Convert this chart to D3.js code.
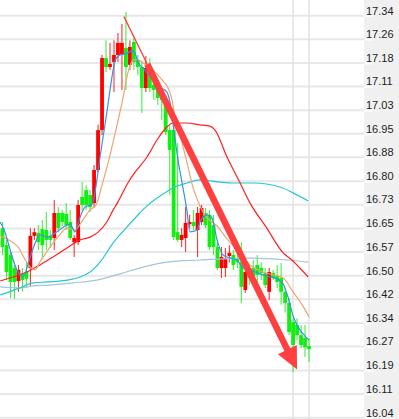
<!DOCTYPE html>
<html>
<head>
<meta charset="utf-8">
<script src="https://cdn.jsdelivr.net/npm/d3@7"></script>
<style>
  html, body { margin: 0; padding: 0; background: #ffffff; }
  svg { display: block; }
</style>
</head>
<body>
<svg id="chart" width="399" height="419"></svg>
<script>
// ---- Data ----
const opens  = [16.653,16.598,16.566,16.524,16.482,16.505,16.511,16.524,16.628,16.637,
                16.650,16.647,16.628,16.621,16.702,16.702,16.699,16.673,16.608,16.608,
                16.754,16.776,16.760,16.734,16.841,16.970,17.203,17.174,17.190,17.213,
                17.213,17.236,17.181,17.255,17.197,17.174,17.106,17.171,17.116,17.109,
                17.090,17.067,16.970,16.970,16.640,16.615,16.621,16.666,16.673,16.647,
                16.673,16.702,16.696,16.663,16.592,16.524,16.524,16.563,16.566,16.556,
                16.543,16.453,16.511,16.524,16.534,16.524,16.508,16.447,16.508,16.498,
                16.492,16.447,16.411,16.350,16.340,16.307,16.298,16.272];
const closes = [16.592,16.511,16.479,16.479,16.518,16.485,16.489,16.628,16.640,16.608,
                16.598,16.615,16.615,16.702,16.653,16.673,16.663,16.621,16.621,16.728,
                16.728,16.728,16.721,16.841,16.970,17.203,17.174,17.184,17.213,17.252,
                17.252,17.174,17.239,17.190,17.174,17.106,17.171,17.106,17.100,17.074,
                17.067,16.964,16.906,16.624,16.615,16.631,16.670,16.673,16.660,16.702,
                16.718,16.663,16.592,16.592,16.524,16.560,16.556,16.573,16.534,16.543,
                16.463,16.511,16.492,16.498,16.502,16.508,16.469,16.511,16.492,16.479,
                16.447,16.411,16.317,16.275,16.307,16.275,16.268,16.262];
const highs  = [16.673,16.615,16.582,16.543,16.534,16.524,16.543,16.653,16.653,16.663,
                16.679,16.705,16.647,16.744,16.721,16.712,16.734,16.712,16.631,16.744,
                16.802,16.792,16.776,16.857,16.987,17.213,17.261,17.252,17.261,17.284,
                17.313,17.352,17.261,17.268,17.213,17.190,17.210,17.203,17.132,17.132,
                17.106,17.084,16.987,16.987,16.928,16.653,16.721,16.696,16.712,16.721,
                16.728,16.718,16.712,16.696,16.615,16.592,16.589,16.598,16.582,16.576,
                16.608,16.556,16.534,16.550,16.566,16.543,16.524,16.524,16.518,16.534,
                16.540,16.459,16.427,16.362,16.362,16.340,16.340,16.298];
const lows   = [16.566,16.485,16.427,16.424,16.447,16.447,16.459,16.466,16.615,16.582,
                16.556,16.582,16.589,16.582,16.640,16.660,16.647,16.615,16.560,16.598,
                16.712,16.712,16.705,16.718,16.834,16.954,17.158,17.164,17.093,17.190,
                17.100,17.100,17.164,17.164,17.148,17.025,17.093,17.093,17.067,17.051,
                17.003,16.954,16.760,16.615,16.608,16.592,16.576,16.653,16.647,16.560,
                16.663,16.653,16.582,16.566,16.518,16.492,16.495,16.543,16.518,16.524,
                16.411,16.443,16.469,16.485,16.469,16.485,16.459,16.421,16.485,16.459,
                16.405,16.379,16.307,16.187,16.291,16.265,16.236,16.220];

// Moving-average lines: [candle index, price]
const maBlue = [[-0.6,16.673],[0.6,16.641],[1.9,16.583],[3.1,16.534],[4.4,16.502],[5.1,16.495],
  [6.9,16.557],[8.2,16.605],[9.4,16.631],[11.2,16.624],[13.2,16.637],[14.9,16.653],[17.0,16.666],
  [18.2,16.641],[19.5,16.689],[20.7,16.721],[22.5,16.731],[24.5,16.883],[26.3,17.035],[27.5,17.142],
  [28.3,17.197],[29.5,17.213],[31.3,17.219],[32.5,17.226],[33.3,17.219],[34.0,17.190],[35.3,17.171],
  [37.8,17.132],[39.6,17.109],[41.3,17.093],[42.1,17.058],[42.8,16.993],[44.1,16.873],[45.3,16.786],
  [46.3,16.712],[47.1,16.641],[48.9,16.647],[49.6,16.673],[51.4,16.696],[52.6,16.686],[53.9,16.615],
  [55.4,16.566],[57.1,16.557],[58.9,16.550],[60.4,16.524],[62.2,16.518],[64.7,16.505],[67.2,16.495],
  [69.0,16.489],[70.5,16.473],[71.7,16.431],[73.0,16.369],[74.7,16.324],[76.0,16.304],[77.0,16.291]];
const maTan = [[-0.6,16.628],[1.9,16.612],[3.9,16.592],[5.6,16.553],[6.9,16.528],[8.2,16.518],
  [9.4,16.544],[11.4,16.582],[13.9,16.624],[16.2,16.653],[18.2,16.647],[20.0,16.676],[22.0,16.712],
  [23.5,16.728],[25.0,16.792],[26.5,16.863],[28.3,16.960],[30.3,17.077],[31.5,17.155],[32.8,17.197],
  [34.0,17.197],[36.3,17.177],[38.8,17.152],[40.3,17.129],[41.6,17.106],[42.6,17.067],[43.3,17.012],
  [44.6,16.954],[46.3,16.867],[47.9,16.783],[49.6,16.725],[51.4,16.686],[53.9,16.660],[56.4,16.618],
  [58.9,16.583],[62.2,16.534],[65.4,16.511],[70.5,16.492],[73.0,16.447],[75.5,16.401],[77.0,16.366]];
const maRed = [[-0.6,16.482],[2.6,16.495],[6.1,16.511],[9.4,16.534],[12.7,16.560],[16.2,16.589],
  [19.5,16.615],[22.0,16.624],[24.0,16.640],[26.2,16.673],[27.8,16.712],[29.0,16.738],[31.5,16.799],
  [32.8,16.825],[36.3,16.883],[38.8,16.938],[41.3,16.980],[42.8,16.993],[46.3,16.993],[49.6,16.987],
  [52.1,16.983],[53.4,16.970],[56.4,16.883],[59.7,16.799],[62.2,16.734],[66.4,16.653],[70.5,16.573],
  [72.7,16.550],[74.7,16.524],[76.8,16.495]];
const maCyan = [[-0.6,16.437],[4.4,16.460],[7.7,16.476],[11.2,16.479],[16.2,16.485],[19.5,16.495],
  [22.0,16.511],[24.5,16.543],[27.8,16.605],[31.3,16.657],[34.5,16.702],[36.3,16.725],[39.6,16.757],
  [42.8,16.783],[46.3,16.799],[49.6,16.809],[54.6,16.802],[57.9,16.799],[62.9,16.799],[69.7,16.786],
  [73.0,16.767],[76.8,16.741]];
const maSteel = [[-0.6,16.463],[4.4,16.460],[7.7,16.466],[11.9,16.469],[17.7,16.476],[23.7,16.485],
  [29.5,16.505],[35.3,16.527],[41.3,16.543],[49.6,16.550],[62.2,16.556],[71.5,16.550],[76.8,16.543]];

// Price-axis ticks and their labels
const tickValues = [17.340,17.264,17.187,17.111,17.034,16.958,16.882,16.805,16.729,
                    16.652,16.576,16.499,16.423,16.346,16.270,16.193,16.117,16.040];
const tickLabels = ["17.34","17.26","17.18","17.11","17.03","16.95","16.88","16.80","16.73",
                    "16.65","16.57","16.50","16.42","16.34","16.27","16.19","16.11","16.04"];

// Day separators (candle index) and the drawn trend arrow [index, price]
const separators = [73, 77];
const arrowStart = [30.5, 17.337];
const arrowEnd   = [74.0, 16.196];

// ---- Drawing ----
const W = 399, H = 419, plotRight = 364;
const svg = d3.select("#chart");

const x = d3.scaleLinear().domain([0, opens.length - 1]).range([2.54, 309.0]);
const y = d3.scaleLinear().domain([16.04, 17.34]).range([417.7, 15.7]);

svg.append("rect").attr("x", 0).attr("y", 0).attr("width", W).attr("height", H).attr("fill", "#ffffff");

// horizontal grid
svg.append("g").selectAll("line").data(tickValues).join("line")
  .attr("x1", 0).attr("x2", plotRight)
  .attr("y1", d => y(d)).attr("y2", d => y(d))
  .attr("stroke", "#e7e7e7").attr("stroke-width", 2);

// vertical separators
svg.append("g").selectAll("line").data(separators).join("line")
  .attr("x1", d => x(d)).attr("x2", d => x(d))
  .attr("y1", 0).attr("y2", H)
  .attr("stroke", "#e2e2e2").attr("stroke-width", 1.5);

// right axis panel
svg.append("rect").attr("x", plotRight).attr("y", 0).attr("width", W - plotRight).attr("height", H)
  .attr("fill", "#f0f0f0");

const axis = d3.axisRight(y).tickValues(tickValues)
  .tickFormat((d, i) => tickLabels[i]).tickSize(9).tickPadding(-7);
const gAxis = svg.append("g").attr("transform", `translate(${plotRight},0)`).call(axis);
gAxis.select(".domain").remove();
gAxis.selectAll(".tick line").attr("stroke", "#fbfbfb").attr("stroke-width", 2);
gAxis.selectAll(".tick text")
  .attr("x", 2).attr("dy", "-0.15em")
  .attr("fill", "#1c1c1c")
  .style("font-family", "'Liberation Sans', Arial, sans-serif")
  .style("font-size", "11px");

// plot clip
svg.append("clipPath").attr("id", "plotclip")
  .append("rect").attr("x", 0).attr("y", 0).attr("width", plotRight).attr("height", H);
const plot = svg.append("g").attr("clip-path", "url(#plotclip)");

const UP = "#ff0000", DOWN = "#11ee11";
const idx = d3.range(opens.length);
const col = i => closes[i] >= opens[i] ? UP : DOWN;

// wicks
plot.append("g").selectAll("line").data(idx).join("line")
  .attr("x1", i => x(i)).attr("x2", i => x(i))
  .attr("y1", i => y(highs[i])).attr("y2", i => y(lows[i]))
  .attr("stroke", col).attr("stroke-width", 1.1).attr("stroke-opacity", 0.8);

// bodies
const bw = 3.8;
plot.append("g").selectAll("rect").data(idx).join("rect")
  .attr("x", i => x(i) - bw / 2).attr("width", bw)
  .attr("y", i => y(Math.max(opens[i], closes[i])))
  .attr("height", i => Math.max(1.5, Math.abs(y(opens[i]) - y(closes[i]))))
  .attr("fill", col);

// moving averages
const line = d3.line().x(d => x(d[0])).y(d => y(d[1])).curve(d3.curveMonotoneX);
const mas = [
  [maSteel, "#a3c5dd"],
  [maCyan, "#27c8d2"],
  [maRed, "#ff2020"],
  [maTan, "#eba574"],
  [maBlue, "#3b8fea"]
];
mas.forEach(([data, c]) => {
  plot.append("path").datum(data).attr("d", line)
    .attr("fill", "none").attr("stroke", c).attr("stroke-width", 1.2);
});

// trend arrow
const p0 = [x(arrowStart[0]), y(arrowStart[1])];
const p1 = [x(arrowEnd[0]), y(arrowEnd[1])];
const dx = p1[0] - p0[0], dy = p1[1] - p0[1];
const len = Math.hypot(dx, dy);
const u = [dx / len, dy / len], n = [-u[1], u[0]];
const tStart = 0.135;
const pt = [p0[0] + dx * tStart, p0[1] + dy * tStart];
const headLen = 22, headHalf = 10.5;
const base = [p1[0] - u[0] * headLen, p1[1] - u[1] * headLen];
const ARROW = "#ff4040";
plot.append("line").attr("x1", p0[0]).attr("y1", p0[1]).attr("x2", pt[0] + u[0] * 2).attr("y2", pt[1] + u[1] * 2)
  .attr("stroke", ARROW).attr("stroke-width", 1.3);
plot.append("line").attr("x1", pt[0]).attr("y1", pt[1]).attr("x2", base[0] + u[0]).attr("y2", base[1] + u[1])
  .attr("stroke", ARROW).attr("stroke-width", 6.5);
plot.append("polygon")
  .attr("points", [
    [base[0] + n[0] * headHalf, base[1] + n[1] * headHalf],
    [p1[0], p1[1]],
    [base[0] - n[0] * headHalf, base[1] - n[1] * headHalf]
  ].map(p => p.join(",")).join(" "))
  .attr("fill", ARROW);
</script>
</body>
</html>
